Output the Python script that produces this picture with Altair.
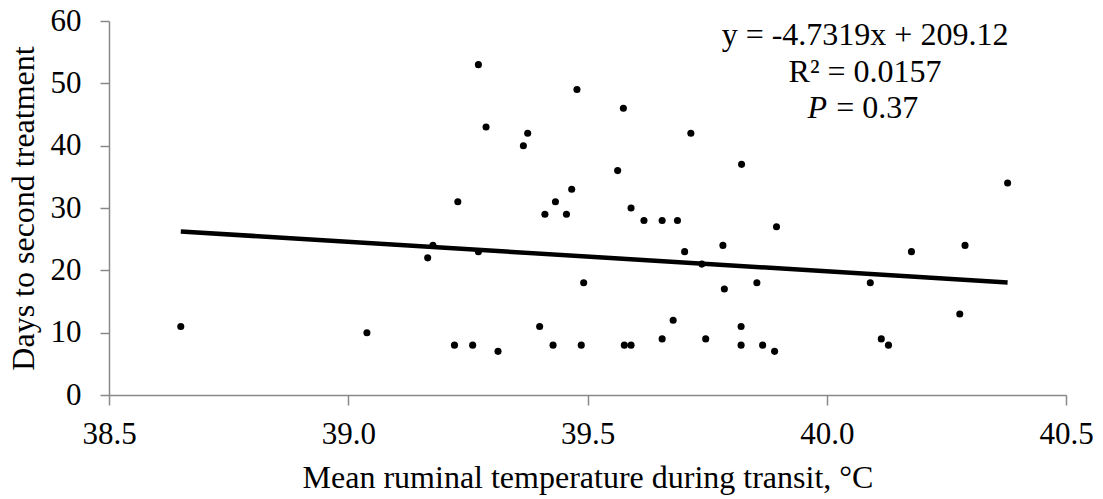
import altair as alt
import pandas as pd

# Scatter data
temps = [38.65, 39.039, 39.222, 39.260, 39.313, 39.229, 39.177, 39.166, 39.272, 39.272,
         39.288, 39.366, 39.375, 39.411, 39.433, 39.456, 39.467, 39.478, 39.492, 39.400,
         39.428, 39.487, 39.563, 39.575, 39.591, 39.618, 39.656, 39.688, 39.716, 39.703,
         39.739, 39.783, 39.786, 39.822, 39.854, 39.577, 39.591, 39.656, 39.679, 39.747,
         39.821, 39.821, 39.866, 39.891, 39.895, 40.091, 40.114, 40.129, 40.177, 40.289,
         40.278, 40.378]
days = [11, 10, 8, 8, 7, 31, 24, 22, 23, 53,
        43, 40, 42, 29, 31, 29, 33, 49, 18, 11,
        8, 8, 36, 46, 30, 28, 28, 28, 42, 23,
        21, 24, 17, 37, 18, 8, 8, 9, 12, 9,
        11, 8, 8, 7, 27, 18, 9, 8, 23, 24,
        13, 34]

slope = -4.7319
intercept = 209.12

x_ticks = [38.5, 39.0, 39.5, 40.0, 40.5]
y_ticks = [0, 10, 20, 30, 40, 50, 60]

eq_lines = ["y = -4.7319x + 209.12", "R² = 0.0157"]
eq_x = [40.08, 40.08]
eq_y = [56.15, 50.2]
p_label = "P"
p_value = "= 0.37"

FONT = "Liberation Serif, Times New Roman, serif"
AXIS_COLOR = "#898989"

pts = pd.DataFrame({"temp": temps, "days": days})
xmin, xmax = min(temps), max(temps)
trend = pd.DataFrame({"temp": [xmin, xmax],
                      "days": [slope * xmin + intercept, slope * xmax + intercept]})

xscale = alt.Scale(domain=[38.5, 40.5], nice=False, zero=False)
yscale = alt.Scale(domain=[0, 60], nice=False)

xaxis = alt.Axis(values=x_ticks, format=".1f", tickSize=10,
                 labelBaseline="alphabetic", labelPadding=38,
                 title="Mean ruminal temperature during transit, °C",
                 titleBaseline="alphabetic", titleY=92)
yaxis = alt.Axis(values=y_ticks, tickSize=9, labelPadding=19,
                 title="Days to second treatment", titleAngle=-90,
                 titleBaseline="alphabetic", titleX=-76, titleY=187, titleAlign="center")

points = alt.Chart(pts).mark_circle(size=50, color="black", opacity=1).encode(
    x=alt.X("temp:Q", scale=xscale, axis=xaxis),
    y=alt.Y("days:Q", scale=yscale, axis=yaxis),
)

line = alt.Chart(trend).mark_line(color="black", strokeWidth=4.5).encode(
    x=alt.X("temp:Q", scale=xscale),
    y=alt.Y("days:Q", scale=yscale),
)

eq_df = pd.DataFrame({"x": eq_x, "y": eq_y, "t": eq_lines})
eq_text = alt.Chart(eq_df).mark_text(font=FONT, fontSize=32, align="center",
                                     baseline="alphabetic", color="black").encode(
    x=alt.X("x:Q", scale=xscale), y=alt.Y("y:Q", scale=yscale), text="t:N")

p_df = pd.DataFrame({"x": [39.96], "y": [44.4], "t": [p_label]})
p_text = alt.Chart(p_df).mark_text(font=FONT, fontSize=32, fontStyle="italic", align="left",
                                   baseline="alphabetic", color="black").encode(
    x=alt.X("x:Q", scale=xscale), y=alt.Y("y:Q", scale=yscale), text="t:N")

v_df = pd.DataFrame({"x": [40.02], "y": [44.4], "t": [p_value]})
v_text = alt.Chart(v_df).mark_text(font=FONT, fontSize=32, align="left",
                                   baseline="alphabetic", color="black").encode(
    x=alt.X("x:Q", scale=xscale), y=alt.Y("y:Q", scale=yscale), text="t:N")

chart = alt.layer(points, line, eq_text, p_text, v_text).properties(
    width=957, height=374,
    autosize=alt.AutoSizeParams(type="none"),
    padding={"left": 109, "top": 21, "right": 37, "bottom": 104},
    background="white",
).configure_view(stroke=None).configure_axis(
    grid=False, domainColor=AXIS_COLOR, tickColor=AXIS_COLOR,
    domainWidth=1.5, tickWidth=1.5, labelFlush=False,
    labelFont=FONT, labelFontSize=31, labelColor="black",
    titleFont=FONT, titleFontSize=32, titleFontWeight="normal", titleColor="black",
).configure_text(font=FONT)

chart.save("out.html", embed_options={"renderer": "svg", "actions": False})
